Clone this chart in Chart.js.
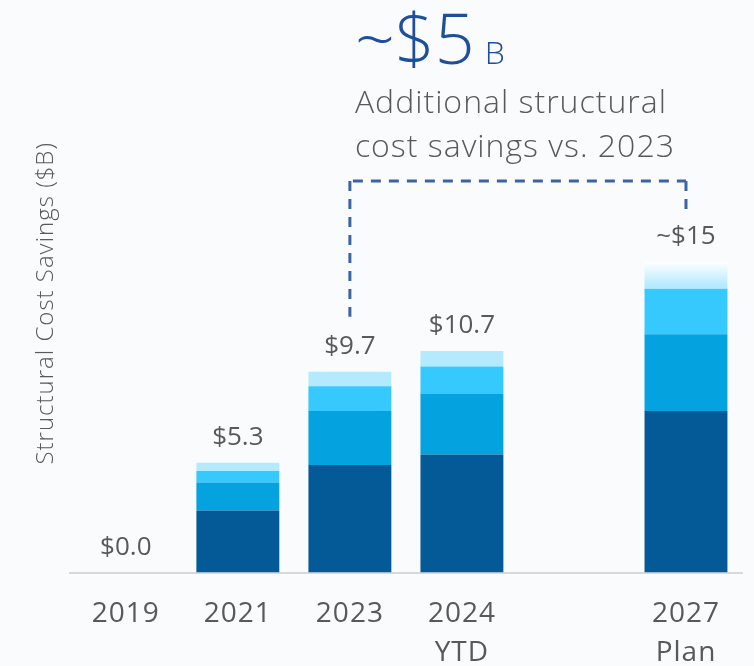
<!DOCTYPE html>
<html>
<head>
<meta charset="utf-8">
<script src="https://cdn.jsdelivr.net/npm/chart.js@4.4.1/dist/chart.umd.min.js"></script>
<style>
  html, body { margin: 0; padding: 0; background: #fafbfd; }
  #c { display: block; }
</style>
</head>
<body>
<canvas id="c" width="754" height="666"></canvas>
<script>
// ---- data ----
const categories = [['2019'], ['2021'], ['2023'], ['2024', 'YTD'], '', ['2027', 'Plan']];
const savingsCore   = [0, 3.0, 5.2, 5.7, null, 7.8];
const savingsSecond = [0, 1.35, 2.6, 2.95, null, 3.7];
const savingsThird  = [0, 0.55, 1.2, 1.3, null, 2.2];
const savingsFourth = [0, 0.4, 0.7, 0.75, null, 1.3];
const totalLabels   = ['$0.0', '$5.3', '$9.7', '$10.7', '', '~$15'];
const headlineValue = '~$5';
const headlineUnit  = 'B';
const headlineText  = ['Additional structural', 'cost savings vs. 2023'];
const yTitle = 'Structural Cost Savings ($B)';

const series = [savingsCore, savingsSecond, savingsThird, savingsFourth];
const total = i => series.reduce((s, a) => s + (a[i] || 0), 0);

const FONT = '"Open Sans", "Noto Sans", sans-serif';
const TEXT = '#595959';

function topColor(ctx) {
  const base = '#b3eafe';
  if (ctx.dataIndex !== 5) return base;
  const chart = ctx.chart;
  if (!chart.chartArea) return base;
  const y = chart.scales.y;
  const i = ctx.dataIndex;
  const t = y.getPixelForValue(total(i));
  const b = y.getPixelForValue(total(i) - savingsFourth[i]);
  const g = chart.ctx.createLinearGradient(0, t, 0, b);
  g.addColorStop(0, '#ffffff');
  g.addColorStop(0.9, base);
  g.addColorStop(1, base);
  return g;
}

const spacing = {
  id: 'spacing',
  beforeDraw(chart) { chart.ctx.letterSpacing = '1px'; },
  afterDraw(chart) { chart.ctx.letterSpacing = '0px'; }
};

const annotate = {
  id: 'annotate',
  afterDatasetsDraw(chart) {
    const { ctx, scales: { x, y } } = chart;
    ctx.save();
    ctx.letterSpacing = '0px';
    // totals above bars
    ctx.font = '26px ' + FONT;
    ctx.fillStyle = TEXT;
    ctx.textAlign = 'center';
    ctx.textBaseline = 'alphabetic';
    totalLabels.forEach((t, i) => {
      if (!t) return;
      ctx.fillText(t, x.getPixelForValue(i), y.getPixelForValue(total(i)) - 18);
    });
    // dashed bracket 2023 -> 2027
    const xL = x.getPixelForValue(2), xR = x.getPixelForValue(5);
    const yTop = y.getPixelForValue(18.9);
    const yL = y.getPixelForValue(total(2)) - 55;
    const yR = y.getPixelForValue(total(5)) - 50;
    ctx.setLineDash([10, 8]);
    ctx.lineWidth = 3;
    ctx.strokeStyle = '#3b64a3';
    ctx.beginPath();
    ctx.moveTo(xL, yTop); ctx.lineTo(xL, yL);
    ctx.moveTo(xL + 3, yTop); ctx.lineTo(xR, yTop);
    ctx.moveTo(xR, yTop); ctx.lineTo(xR, yR);
    ctx.stroke();
    ctx.setLineDash([]);
    // headline
    const hx = xL + 5;
    ctx.textAlign = 'left';
    ctx.fillStyle = '#1d4f9e';
    ctx.font = '300 70px ' + FONT;
    ctx.fillText(headlineValue, hx, 64);
    const w = ctx.measureText(headlineValue).width;
    ctx.font = '300 32px ' + FONT;
    ctx.fillText(headlineUnit, hx + w + 10, 64);
    ctx.fillStyle = TEXT;
    ctx.font = '300 32px ' + FONT;
    ctx.letterSpacing = '1px';
    ctx.fillText(headlineText[0], hx, 113);
    ctx.fillText(headlineText[1], hx, 157);
    ctx.restore();
  }
};

new Chart(document.getElementById('c'), {
  type: 'bar',
  data: {
    labels: categories,
    datasets: [
      { data: savingsCore,   backgroundColor: '#045a97' },
      { data: savingsSecond, backgroundColor: '#04a2df' },
      { data: savingsThird,  backgroundColor: '#36c9fd' },
      { data: savingsFourth, backgroundColor: topColor }
    ].map(d => Object.assign(d, { barPercentage: 0.74, categoryPercentage: 1, borderWidth: 0 }))
  },
  options: {
    responsive: false,
    animation: false,
    layout: { padding: { left: 32, right: 12, top: 34, bottom: -29 } },
    plugins: { legend: { display: false }, tooltip: { enabled: false } },
    scales: {
      x: {
        stacked: true,
        grid: { display: false, drawTicks: false },
        border: { display: true, color: '#d9d9d9', width: 2 },
        ticks: {
          color: TEXT,
          font: { family: FONT, size: 28, lineHeight: 1.4 },
          padding: 22,
          autoSkip: false,
          maxRotation: 0
        }
      },
      y: {
        stacked: true,
        min: 0,
        max: 26,
        grid: { display: false, drawTicks: false },
        border: { display: false },
        ticks: { display: false },
        title: {
          display: true,
          text: yTitle,
          color: TEXT,
          font: { family: FONT, size: 24, weight: 300 },
          padding: { top: 0, bottom: 9 }
        }
      }
    }
  },
  plugins: [spacing, annotate]
});
</script>
</body>
</html>
